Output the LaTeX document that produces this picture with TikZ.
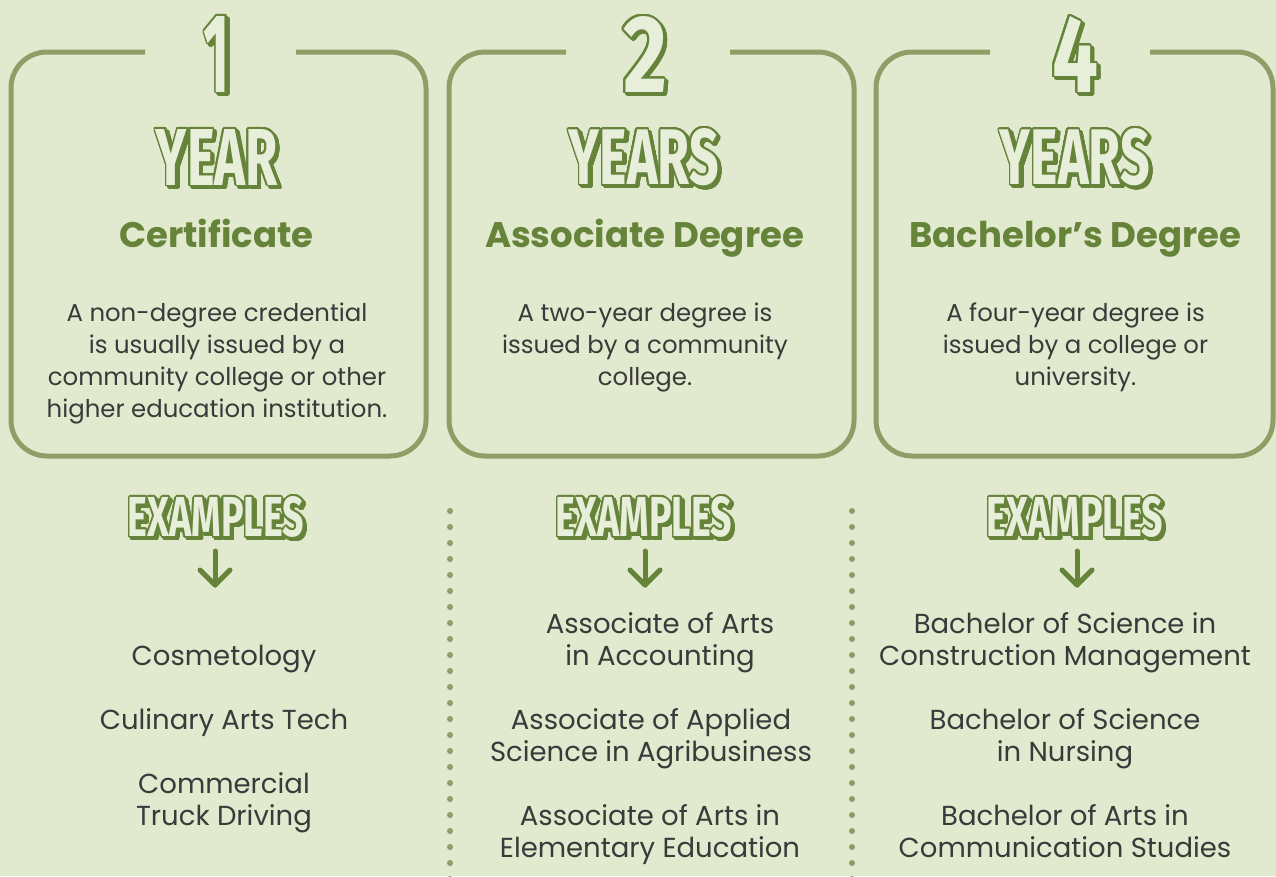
\documentclass[tikz,border=0pt]{standalone}
\usepackage{fontspec}
\setmainfont{Poppins}
\newfontfamily\dispfont{Fira Sans}
\usepackage[copies]{contour}
\contourlength{1.8pt}
\contournumber{24}
\definecolor{bg}{HTML}{E1EACE}
\definecolor{boxc}{HTML}{8F9D66}
\definecolor{dgreen}{HTML}{66833A}
\definecolor{lfill}{HTML}{E7EED9}
\definecolor{txt}{HTML}{3A3A3A}
\newcommand{\dispbox}[3]{\resizebox{#2pt}{#3pt}{\dispfont\bfseries #1}}
\newcommand{\bigword}[6]{%
  \node[inner sep=0pt, text=dgreen] (#1s) at (#2+2.5,#3+2.5) {\contour{dgreen}{\dispbox{#4}{#5}{#6}}};
  \node[inner sep=0pt, text=lfill] (#1) at (#2,#3) {\contour{dgreen}{\dispbox{#4}{#5}{#6}}};
}
\tikzset{
  boxline/.style={draw=boxc, line width=5pt, rounded corners=36pt},
  headtxt/.style={anchor=base, inner sep=0pt, text=dgreen, font=\fontsize{35.5}{40}\selectfont\bfseries},
  bodytxt/.style={anchor=base, inner sep=0pt, text=txt, font=\fontsize{24.4}{32}\selectfont},
  extxt/.style={anchor=base, inner sep=0pt, text=txt, font=\fontsize{27.5}{32}\selectfont},
  arrowline/.style={draw=dgreen, line width=5pt, line cap=round, line join=round},
}
\begin{document}
\begin{tikzpicture}[x=1pt,y=-1pt]
\fill[bg] (0,0) rectangle (1276,876);
\useasboundingbox (0,0) rectangle (1276,876);
\begin{scope}
\clip (0,0) rectangle (1276,876);
% boxes
\draw[boxline] (296,52) -- (426,52) -- (426,456) -- (11,456) -- (11,52) -- (145,52);
\draw[boxline] (730,52) -- (854,52) -- (854,456) -- (449,456) -- (449,52) -- (566,52);
\draw[boxline] (1150,52) -- (1273,52) -- (1273,456) -- (876,456) -- (876,52) -- (990,52);
% dotted dividers
\foreach \yy in {511,527,...,880} {
  \fill[boxc] (450,\yy) circle (3);
  \fill[boxc] (852,\yy) circle (3);
}
\end{scope}
% big numbers
\bigword{n1}{217}{55}{1}{26}{76}
\bigword{n2}{645}{55}{2}{44}{76}
\bigword{n4}{1075}{55}{4}{46}{76}
% YEAR(S)
\bigword{y1}{217}{158}{YEAR}{122}{56}
\bigword{y2}{644}{158}{YEARS}{150}{56}
\bigword{y4}{1075}{158}{YEARS}{150}{56}
% headings
\node[headtxt] (h1) at (216.5,247) {Certificate};
\node[headtxt] (h2) at (644.5,247) {Associate Degree};
\node[headtxt] (h4) at (1075.5,247) {Bachelor’s Degree};
% body text
\node[bodytxt] (b1a) at (217,321) {A non-degree credential};
\node[bodytxt] (b1b) at (217,353) {is usually issued by a};
\node[bodytxt] (b1c) at (217,385) {community college or other};
\node[bodytxt] (b1d) at (217,417) {higher education institution.};
\node[bodytxt] (b2a) at (645,321) {A two-year degree is};
\node[bodytxt] (b2b) at (645,353) {issued by a community};
\node[bodytxt] (b2c) at (645,385) {college.};
\node[bodytxt] (b4a) at (1075.5,321) {A four-year degree is};
\node[bodytxt] (b4b) at (1075.5,353) {issued by a college or};
\node[bodytxt] (b4c) at (1075.5,385) {university.};
% EXAMPLES
\bigword{e1}{216}{518}{EXAMPLES}{176}{40}
\bigword{e2}{644}{518}{EXAMPLES}{176}{40}
\bigword{e4}{1075}{518}{EXAMPLES}{176}{40}
% arrows
\foreach \ax/\nm in {215/a1,645/a2,1077/a4} {
  \coordinate (\nm t) at (\ax,551);
  \coordinate (\nm b) at (\ax,585);
  \coordinate (\nm l) at (\ax-15,570);
  \coordinate (\nm r) at (\ax+15,570);
  \draw[arrowline] (\nm t) -- (\nm b);
  \draw[arrowline] (\nm l) -- (\nm b) -- (\nm r);
}
% examples col 1
\node[extxt] (x1a) at (224,665) {Cosmetology};
\node[extxt] (x1b) at (224,729) {Culinary Arts Tech};
\node[extxt] (x1c) at (224,793) {Commercial};
\node[extxt] (x1d) at (224,825) {Truck Driving};
% examples col 2
\node[extxt] (x2a) at (660,633) {Associate of Arts};
\node[extxt] (x2b) at (660,665) {in Accounting};
\node[extxt] (x2c) at (651,729) {Associate of Applied};
\node[extxt] (x2d) at (651,761) {Science in Agribusiness};
\node[extxt] (x2e) at (650,825) {Associate of Arts in};
\node[extxt] (x2f) at (650,857) {Elementary Education};
% examples col 4
\node[extxt] (x4a) at (1065,633) {Bachelor of Science in};
\node[extxt] (x4b) at (1065,665) {Construction Management};
\node[extxt] (x4c) at (1065,729) {Bachelor of Science};
\node[extxt] (x4d) at (1065,761) {in Nursing};
\node[extxt] (x4e) at (1065,825) {Bachelor of Arts in};
\node[extxt] (x4f) at (1065,857) {Communication Studies};
\end{tikzpicture}
\end{document}
